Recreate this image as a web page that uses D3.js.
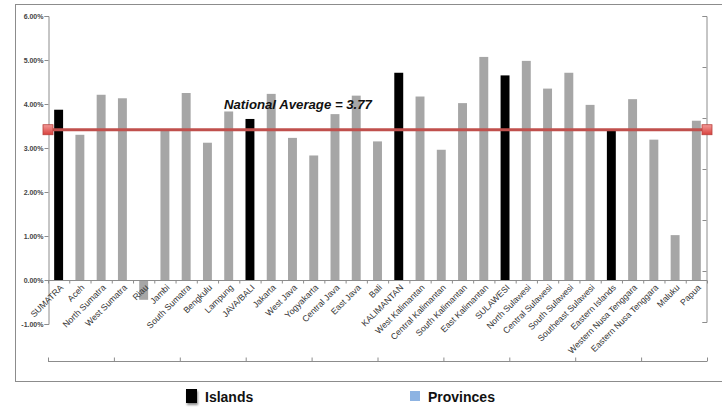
<!DOCTYPE html>
<html><head><meta charset="utf-8">
<script src="https://cdn.jsdelivr.net/npm/d3@7"></script>
<style>body{margin:0;background:#fff}svg{display:block;font-family:"Liberation Sans",Arial,sans-serif}</style>
</head><body><svg id="c" width="722" height="412"></svg>
<script>
const categories = ["SUMATRA","Aceh","North Sumatra","West Sumatra","Riau","Jambi","South Sumatra","Bengkulu","Lampung","JAVA/BALI","Jakarta","West Java","Yogyakarta","Central Java","East Java","Bali","KALIMANTAN","West Kalimantan","Central Kalimantan","South Kalimantan","East Kalimantan","SULAWESI","North Sulawesi","Central Sulawesi","South Sulawesi","Southeast Sulawesi","Eastern Islands","Western Nusa Tenggara","Eastern Nusa Tenggara","Maluku","Papua"];
const values = [3.87,3.30,4.21,4.13,-0.45,3.42,4.25,3.12,3.83,3.66,4.23,3.23,2.83,3.77,4.19,3.15,4.71,4.17,2.96,4.02,5.07,4.65,4.98,4.35,4.71,3.98,3.43,4.11,3.19,1.02,3.62];
const isIsland = ["SUMATRA","JAVA/BALI","KALIMANTAN","SULAWESI","Eastern Islands"];
const yTicks = [-1,0,1,2,3,4,5,6];
const yTickLabels = ["-1.00%","0.00%","1.00%","2.00%","3.00%","4.00%","5.00%","6.00%"];
const nationalAverage = 3.77;
const avgLabel = "National Average = 3.77";
const legendItems = ["Islands","Provinces"];

const svg = d3.select("#c");
const defs = svg.append("defs");
defs.append("filter").attr("id","soft").attr("x","-50%").attr("y","-5%").attr("width","200%").attr("height","110%")
  .append("feGaussianBlur").attr("stdDeviation",0.6);
const grad = defs.append("linearGradient").attr("id","mk").attr("x1",0).attr("y1",0).attr("x2",0).attr("y2",1);
grad.append("stop").attr("offset","0%").attr("stop-color","#f29a98");
grad.append("stop").attr("offset","100%").attr("stop-color","#d8403c");
const sh = defs.append("filter").attr("id","shadow").attr("x","-30%").attr("y","-30%").attr("width","180%").attr("height","180%");
sh.append("feDropShadow").attr("dx",1).attr("dy",2).attr("stdDeviation",1.2).attr("flood-color","#000").attr("flood-opacity",0.45);

// outer frame
svg.append("rect").attr("x",15.5).attr("y",4.5).attr("width",720).attr("height",377).attr("fill","none").attr("stroke","#8c8c8c");

const x = d3.scaleBand().domain(categories).range([48,707]).paddingInner(0.58).paddingOuter(0.29);
const y = d3.scaleLinear().domain([-1,6]).range([324,16]);
const y2 = d3.scaleLinear().domain([0,6]).range([322,16]);

// left axis
const gy = svg.append("g").attr("transform","translate(48.5,0)")
  .call(d3.axisLeft(y).tickValues(yTicks).tickSize(4).tickFormat((d,i)=>yTickLabels[i]));
gy.select(".domain").attr("stroke","#8c8c8c");
gy.selectAll(".tick line").attr("stroke","#8c8c8c");
gy.selectAll("text").attr("font-size",7).attr("font-weight","bold").attr("fill","#444").attr("x",-5);

// right axis
const gr = svg.append("g").attr("transform","translate(706.5,0)")
  .call(d3.axisRight(y2).ticks(6).tickSize(-4).tickFormat(""));
gr.select(".domain").attr("stroke","#8c8c8c");
gr.selectAll(".tick line").attr("stroke","#8c8c8c");

// bars
svg.append("g").selectAll("rect").data(categories).join("rect")
  .attr("x",d=>x(d)).attr("width",x.bandwidth())
  .attr("y",(d,i)=>Math.min(y(values[i]),y(0)))
  .attr("height",(d,i)=>Math.abs(y(values[i])-y(0)))
  .attr("fill",d=>isIsland.includes(d)?"#000":"#a6a6a6")
  .attr("filter",d=>isIsland.includes(d)?null:"url(#soft)");

// zero axis with band ticks
const gx = svg.append("g").attr("transform",`translate(0,${y(0)+0.5})`);
gx.append("line").attr("x1",48).attr("x2",707).attr("stroke","#8c8c8c");
const step = x.step();
gx.selectAll("line.t").data(d3.range(categories.length+1)).join("line").attr("class","t")
  .attr("x1",i=>48+i*step+0.5).attr("x2",i=>48+i*step+0.5).attr("y1",0).attr("y2",3).attr("stroke","#8c8c8c");
svg.append("g").selectAll("text").data(categories).join("text")
  .attr("transform",d=>`translate(${x(d)+x.bandwidth()/2+3},${y(0)+6}) rotate(-45)`)
  .attr("text-anchor","end").attr("dy","0.35em")
  .attr("font-size",8.7).attr("fill","#333").text(d=>d);

// lower secondary axis
const gb = svg.append("g").attr("transform","translate(0,361.5)");
gb.append("line").attr("x1",48).attr("x2",707).attr("stroke","#8c8c8c");
gb.selectAll("line.t").data(d3.range(11)).join("line").attr("class","t")
  .attr("x1",i=>48+i*65.9+0.5).attr("x2",i=>48+i*65.9+0.5).attr("y1",0).attr("y2",-4).attr("stroke","#8c8c8c");

// national average line
const ya = y2(nationalAverage);
svg.append("line").attr("x1",48).attr("x2",707).attr("y1",ya).attr("y2",ya).attr("stroke","#c0504d").attr("stroke-width",3);
svg.selectAll("rect.mk").data([48,707]).join("rect").attr("class","mk")
  .attr("x",d=>d-5).attr("y",ya-5).attr("width",10).attr("height",10)
  .attr("fill","url(#mk)").attr("stroke","#b8403c").attr("stroke-width",0.8);
svg.append("text").attr("x",224).attr("y",109).attr("font-size",13.2).attr("font-weight","bold").attr("font-style","italic")
  .attr("fill","#111").text(avgLabel);

// legend
svg.append("rect").attr("x",186).attr("y",389).attr("width",11).attr("height",14).attr("fill","#000").attr("filter","url(#shadow)");
svg.append("text").attr("x",205).attr("y",402).attr("font-size",14).attr("font-weight","bold").attr("fill","#111").text(legendItems[0]);
svg.append("rect").attr("x",410).attr("y",391).attr("width",10).attr("height",10).attr("fill","#8db3e2");
svg.append("text").attr("x",428).attr("y",402).attr("font-size",14).attr("font-weight","bold").attr("fill","#111").text(legendItems[1]);
</script></body></html>
